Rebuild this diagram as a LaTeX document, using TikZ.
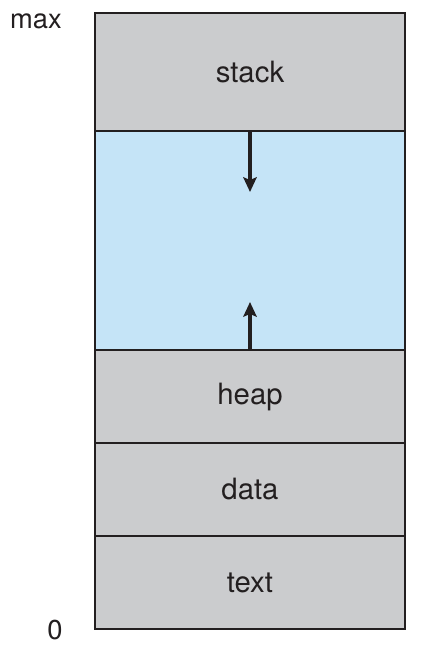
\documentclass[tikz,border=0pt]{standalone}
\usepackage{fontspec}
\setmainfont{TeX Gyre Heros}
\usetikzlibrary{arrows.meta,positioning}

\definecolor{segray}{HTML}{CBCCCE}
\definecolor{segblue}{HTML}{C5E4F7}
\definecolor{segline}{HTML}{231F20}

\tikzset{
  segment/.style={draw=segline, line width=1.5pt, fill=segray, minimum width=232.5pt,
    inner sep=0pt, outer sep=0pt, font=\fontsize{22}{26}\selectfont, text=segline},
  growarrow/.style={draw=segline, line width=2.4pt, -{Stealth[length=11pt,width=10pt,inset=2pt]}},
  addr/.style={font=\fontsize{20.5}{24}\selectfont, text=segline}
}

\begin{document}
\begin{tikzpicture}[x=0.75pt,y=-0.75pt]
			\useasboundingbox (0,0) rectangle (424,658);
			\node[segment, minimum height=88.5pt, anchor=north west] (stack) at (95,13) {stack};
			\node[segment, minimum height=164.25pt, fill=segblue, below=0pt of stack] (free) {};
			\node[segment, minimum height=69.75pt, below=0pt of free] (heap) {heap};
			\node[segment, minimum height=69.75pt, below=0pt of heap] (data) {data};
			\node[segment, minimum height=69.75pt, below=0pt of data] (text) {text};
			\coordinate (downtip) at (250,192);
			\coordinate (uptip) at (250,302);
			\draw[growarrow] (free.north) -- (downtip);
			\draw[growarrow] (free.south) -- (uptip);
			\node[addr] (max) at (36,21) {max};
			\node[addr] (zero) at (55,630) {0};
		\end{tikzpicture}
\end{document}
